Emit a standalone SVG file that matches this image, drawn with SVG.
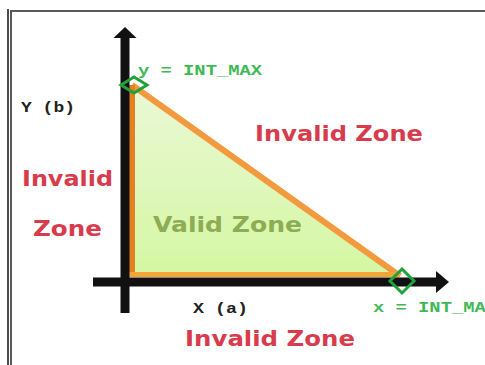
<svg xmlns="http://www.w3.org/2000/svg" width="485" height="365" viewBox="0 0 485 365">
  <defs>
    <linearGradient id="validFill" x1="0" y1="0" x2="0" y2="1">
      <stop offset="0" stop-color="#eaf8d6"/>
      <stop offset="1" stop-color="#d4f7a2"/>
    </linearGradient>
    <style>
      .mono { font-family: "Liberation Mono", "DejaVu Sans Mono", monospace; font-weight: bold; }
      .zone { font-family: "DejaVu Sans", "Verdana", sans-serif; font-weight: bold; fill: #d83c4c; }
      .green { fill: #3fb955; }
      .axis { fill: #111; stroke: none; }
      .edge { fill: none; stroke: #f39a3e; stroke-linejoin: round; }
      .mark { fill: none; stroke: #1fa23c; stroke-width: 3; stroke-linejoin: miter; }
    </style>
  </defs>
  <rect width="485" height="365" fill="#ffffff"/>

  <g id="frame">
    <line x1="8" y1="9" x2="8" y2="365" stroke="#111" stroke-width="1.5"/>
    <polyline points="11,365 11,11 485,11" fill="none" stroke="#5a5a5a" stroke-width="2"/>
  </g>

  <g id="valid-region">
    <polygon points="132,85 132,275 400,275" fill="url(#validFill)"/>
  </g>

  <g id="connectors">
    <line class="edge" x1="132" y1="85" x2="400" y2="276" stroke-width="6"/>
    <line x1="132" y1="85" x2="132" y2="276" stroke="#e47f22" stroke-width="6"/>
    <line x1="129" y1="274.5" x2="400" y2="274.5" stroke="#f5a436" stroke-width="5"/>
  </g>

  <g id="axes">
    <rect class="axis" x="120.5" y="36" width="9" height="277"/>
    <polygon class="axis" points="125,27 113.5,38 136.5,38"/>
    <rect class="axis" x="93" y="277.5" width="344" height="9"/>
    <polygon class="axis" points="449,282 436,271 436,293"/>
  </g>

  <g id="y-max-marker">
    <polygon class="mark" points="134,77 147,85 134,93 121,85"/>
    <text class="mono green" x="138" y="75" font-size="15" textLength="124" lengthAdjust="spacingAndGlyphs">y = INT_MAX</text>
  </g>

  <g id="x-max-marker">
    <polygon class="mark" points="402,269 414,281 402,293 390,281"/>
    <text class="mono green" x="373" y="312" font-size="15" textLength="124" lengthAdjust="spacingAndGlyphs">x = INT_MAX</text>
  </g>

  <g id="y-label">
    <text class="mono" x="21" y="112" font-size="15" fill="#222" textLength="54" lengthAdjust="spacingAndGlyphs">Y (b)</text>
  </g>

  <g id="x-label">
    <text class="mono" x="193" y="313" font-size="15" fill="#222" textLength="55" lengthAdjust="spacingAndGlyphs">X (a)</text>
  </g>

  <g id="invalid-top">
    <text class="zone" x="255" y="141" font-size="22" textLength="168" lengthAdjust="spacingAndGlyphs">Invalid Zone</text>
  </g>

  <g id="invalid-left">
    <text class="zone" x="22" y="186" font-size="22" textLength="91" lengthAdjust="spacingAndGlyphs">Invalid</text>
    <text class="zone" x="33" y="236" font-size="22" textLength="69" lengthAdjust="spacingAndGlyphs">Zone</text>
  </g>

  <g id="valid-zone">
    <text x="153" y="232" font-size="22" font-family="DejaVu Sans, Verdana, sans-serif" font-weight="bold" fill="#8eac55" textLength="149" lengthAdjust="spacingAndGlyphs">Valid Zone</text>
  </g>

  <g id="invalid-bottom">
    <text class="zone" x="185" y="346" font-size="22" textLength="170" lengthAdjust="spacingAndGlyphs">Invalid Zone</text>
  </g>
</svg>
